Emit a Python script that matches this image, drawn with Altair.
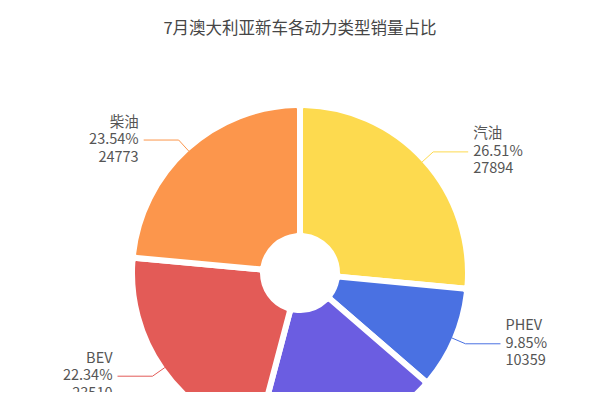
import altair as alt
import pandas as pd

names = ["汽油", "PHEV", "HEV", "BEV", "柴油"]
values = [27894, 10359, 18683, 23510, 24773]
colors = ["#FDDA4F", "#4A71E2", "#6B5DE1", "#E35B57", "#FC964C"]

df = pd.DataFrame({"name": names, "value": values, "idx": list(range(len(names)))})

CX, CY = 292, 225
R = 165
L1, L2 = 15, 35
LH = 17.5

color = alt.Color("name:N", scale=alt.Scale(domain=names, range=colors), legend=None)
xs = alt.Scale(domain=[0, 584], nice=False, zero=False)
ys = alt.Scale(domain=[0, 344], nice=False, zero=False, reverse=True)

base = alt.Chart(df).transform_joinaggregate(
    total="sum(value)"
).transform_window(
    cum="sum(value)", sort=[alt.SortField("idx")], frame=[None, 0]
).transform_calculate(
    mid="(datum.cum - datum.value/2)/datum.total*2*PI",
).transform_calculate(
    side="sin(datum.mid) >= 0 ? 1 : -1",
    x0=f"{CX} + {R}*sin(datum.mid)",
    y0=f"{CY} - {R}*cos(datum.mid)",
    x1=f"{CX} + {R + L1}*sin(datum.mid)",
    y1=f"{CY} - {R + L1}*cos(datum.mid)",
).transform_calculate(
    x2=f"datum.x1 + datum.side*{L2}",
    tx=f"datum.x1 + datum.side*{L2 + 5}",
    label="datum.name + '\\n' + format(datum.value/datum.total*100, '.2f') + '%\\n' + datum.value",
)

arcs = alt.Chart(df).mark_arc(
    innerRadius=37, outerRadius=R + 3, stroke="white", strokeWidth=6, cornerRadius=4
).encode(
    theta=alt.Theta("value:Q", stack=True),
    order=alt.Order("idx:O"),
    color=color,
    x=alt.value(CX),
    y=alt.value(CY),
)

seg1 = base.mark_rule(strokeWidth=1).encode(
    x=alt.X("x0:Q", scale=xs, axis=None),
    y=alt.Y("y0:Q", scale=ys, axis=None),
    x2="x1:Q",
    y2="y1:Q",
    color=color,
)
seg2 = base.mark_rule(strokeWidth=1).encode(
    x=alt.X("x1:Q", scale=xs, axis=None),
    y=alt.Y("y1:Q", scale=ys, axis=None),
    x2="x2:Q",
    y2="y1:Q",
    color=color,
)

def labels(filt, align):
    return base.transform_filter(filt).mark_text(
        align=align, baseline="middle", lineBreak="\n", lineHeight=LH, dy=-LH,
        fontSize=14.5, font="Noto Sans CJK SC", color="#555555"
    ).encode(
        x=alt.X("tx:Q", scale=xs, axis=None),
        y=alt.Y("y1:Q", scale=ys, axis=None),
        text="label:N",
    )

text_right = labels("datum.side > 0", "left")
text_left = labels("datum.side < 0", "right")

chart = alt.layer(arcs, seg1, seg2, text_right, text_left).properties(
    width=584,
    height=344,
    autosize="none",
    padding={"top": 40, "left": 0, "right": 0, "bottom": 0},
    title=alt.TitleParams(
        "7月澳大利亚新车各动力类型销量占比",
        fontSize=16.5, fontWeight="normal", font="Noto Sans CJK SC",
        color="#464646", anchor="middle", offset=11,
    ),
).configure_view(stroke=None)

chart.save("out.html", embed_options={"renderer": "svg", "actions": False})
